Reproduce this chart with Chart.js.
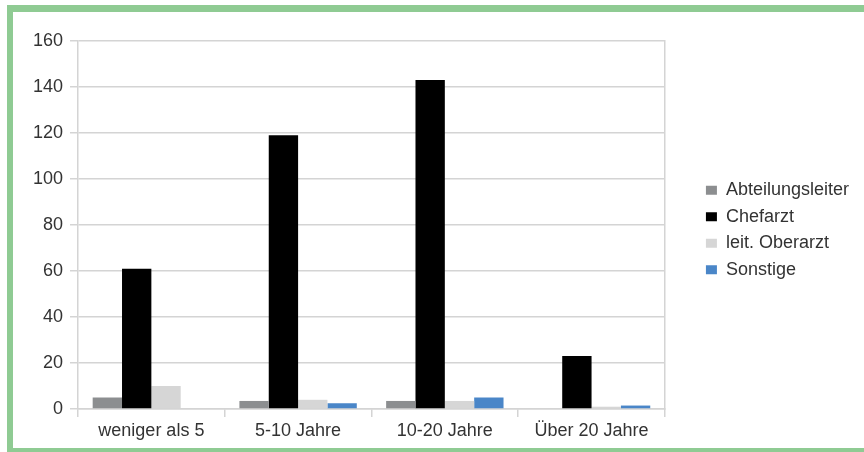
<!DOCTYPE html>
<html>
<head>
<meta charset="utf-8">
<script src="https://cdn.jsdelivr.net/npm/chart.js@4/dist/chart.umd.min.js"></script>
<style>
  html, body { margin: 0; padding: 0; background: #fff; overflow: hidden; width: 864px; height: 452px; }
  #frame {
    position: absolute;
    left: 7px;
    top: 5px;
    width: 851px;
    height: 436px;
    border-top: 7px solid #8fcb93;
    border-left: 6px solid #8fcb93;
    border-bottom: 4px solid #8fcb93;
    background: #fff;
  }
  canvas { display: block; }
</style>
</head>
<body>
<div id="frame"><canvas id="chart" width="851" height="436"></canvas></div>
<script>
const categories = ['weniger als 5', '5-10 Jahre', '10-20 Jahre', 'Über 20 Jahre'];
const seriesNames = ['Abteilungsleiter', 'Chefarzt', 'leit. Oberarzt', 'Sonstige'];
const abteilungsleiter = [5, 3.5, 3.5, 0];
const chefarzt = [61, 119, 143, 23];
const leitOberarzt = [10, 4, 3.5, 1];
const sonstige = [0, 2.5, 5, 1.5];
const yTicks = [0, 20, 40, 60, 80, 100, 120, 140, 160];

const colors = ['#8c8e90', '#000000', '#d6d6d6', '#4a86c8'];
const gridColor = '#d4d4d4';
const textColor = '#333333';
const font = { family: '"Liberation Sans", Arial, sans-serif', size: 18 };

const values = [abteilungsleiter, chefarzt, leitOberarzt, sonstige];

new Chart(document.getElementById('chart'), {
    type: 'bar',
    data: {
        labels: categories,
        datasets: seriesNames.map((name, i) => ({
            label: name,
            data: values[i],
            backgroundColor: colors[i],
            borderWidth: 0,
            categoryPercentage: 0.8,
            barPercentage: 1.0
        }))
    },
    options: {
        responsive: false,
        animation: false,
        devicePixelRatio: 1,
        layout: {
            padding: { top: 29, left: 0, right: 5, bottom: 0 }
        },
        plugins: {
            title: { display: false },
            tooltip: { enabled: false },
            legend: {
                position: 'right',
                fullSize: false,
                maxWidth: 220,
                // empty title only pushes the entries down a little
                title: { display: true, text: '', padding: 0, font: { size: 8.5 } },
                labels: {
                    boxWidth: 11,
                    boxHeight: 9,
                    padding: 8.5,
                    color: textColor,
                    font: font
                }
            }
        },
        scales: {
            x: {
                grid: {
                    display: true,
                    drawOnChartArea: false,
                    drawTicks: true,
                    tickLength: 8,
                    color: gridColor,
                    lineWidth: 1.5
                },
                border: { display: true, color: gridColor, width: 1.5 },
                ticks: { color: textColor, font: font, padding: 3, maxRotation: 0 },
                afterFit: (scale) => { scale.height = 39; }
            },
            y: {
                min: yTicks[0],
                max: yTicks[yTicks.length - 1],
                afterBuildTicks: (scale) => { scale.ticks = yTicks.map(v => ({ value: v })); },
                grid: {
                    color: gridColor,
                    lineWidth: 1.5,
                    drawTicks: true,
                    tickLength: 8
                },
                border: { display: true, color: gridColor, width: 1.5 },
                ticks: { color: textColor, font: font, padding: 7 },
                afterFit: (scale) => { scale.width = 65; }
            },
            // right-hand frame line of the plot area
            y2: {
                position: 'right',
                grid: { display: false },
                ticks: { display: false },
                border: { display: true, color: gridColor, width: 1.5 },
                afterFit: (scale) => { scale.width = 32.5; }
            }
        }
    }
});
</script>
</body>
</html>
